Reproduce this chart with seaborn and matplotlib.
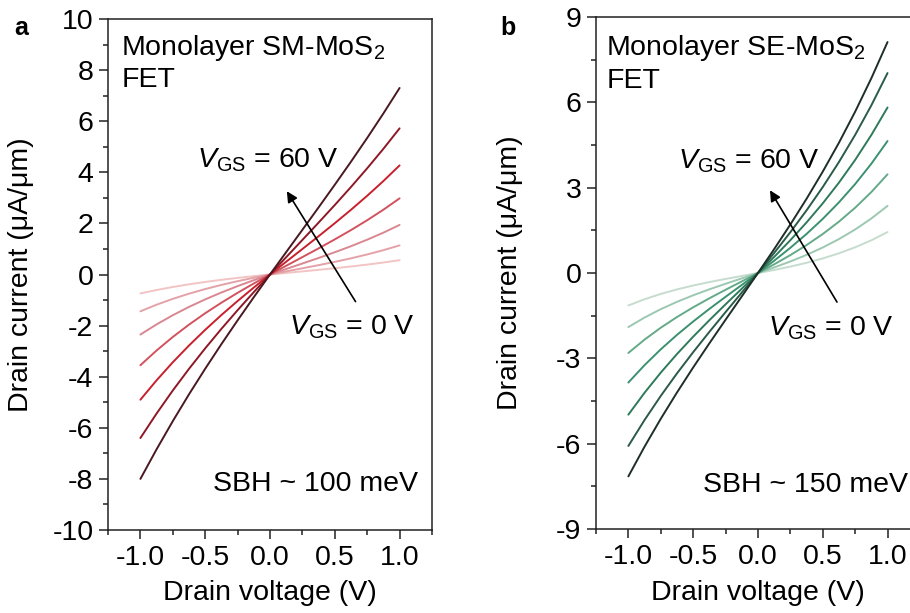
import numpy as np
import pandas as pd
import seaborn as sns
import matplotlib
matplotlib.use('Agg')
import matplotlib.pyplot as plt
from matplotlib.ticker import MultipleLocator, FormatStrFormatter

# Drain voltage samples (V)
vds = [-1.0, -0.875, -0.75, -0.625, -0.5, -0.375, -0.25, -0.125, 0.0,
       0.125, 0.25, 0.375, 0.5, 0.625, 0.75, 0.875, 1.0]

# Gate voltage steps, lowest to highest (used for hue order)
vgs_steps = ["0 V", "10 V", "20 V", "30 V", "40 V", "50 V", "60 V"]

# Panel a: monolayer SM-MoS2, drain current (uA/um), one list per V_GS
sm_0 = [-0.74, -0.607, -0.489, -0.384, -0.291, -0.208, -0.133, -0.064, 0.0,
        0.061, 0.122, 0.183, 0.246, 0.314, 0.388, 0.469, 0.56]
sm_10 = [-1.44, -1.182, -0.953, -0.751, -0.570, -0.408, -0.262, -0.127, 0.0,
         0.122, 0.243, 0.366, 0.495, 0.633, 0.785, 0.952, 1.14]
sm_20 = [-2.35, -1.952, -1.593, -1.268, -0.974, -0.704, -0.455, -0.222, 0.0,
         0.216, 0.430, 0.647, 0.871, 1.108, 1.362, 1.638, 1.94]
sm_30 = [-3.55, -2.973, -2.445, -1.962, -1.516, -1.103, -0.717, -0.351, 0.0,
         0.342, 0.681, 1.023, 1.374, 1.739, 2.124, 2.536, 2.98]
sm_40 = [-4.90, -4.140, -3.435, -2.779, -2.165, -1.586, -1.037, -0.510, 0.0,
         0.501, 0.998, 1.498, 2.008, 2.533, 3.081, 3.658, 4.27]
sm_50 = [-6.40, -5.440, -4.539, -3.692, -2.890, -2.127, -1.396, -0.689, 0.0,
         0.678, 1.353, 2.031, 2.720, 3.426, 4.157, 4.919, 5.72]
sm_60 = [-8.00, -6.839, -5.738, -4.689, -3.688, -2.725, -1.794, -0.888, 0.0,
         0.877, 1.750, 2.626, 3.513, 4.416, 5.344, 6.303, 7.30]

# Panel b: monolayer SE-MoS2
se_0 = [-1.14, -0.922, -0.735, -0.576, -0.439, -0.318, -0.208, -0.104, 0.0,
        0.108, 0.226, 0.360, 0.514, 0.693, 0.904, 1.151, 1.44]
se_10 = [-1.90, -1.565, -1.271, -1.013, -0.783, -0.573, -0.378, -0.189, 0.0,
         0.196, 0.406, 0.638, 0.898, 1.193, 1.530, 1.917, 2.36]
se_20 = [-2.81, -2.341, -1.923, -1.548, -1.206, -0.889, -0.589, -0.295, 0.0,
         0.305, 0.630, 0.982, 1.371, 1.806, 2.295, 2.846, 3.47]
se_30 = [-3.85, -3.238, -2.683, -2.175, -1.705, -1.262, -0.837, -0.420, 0.0,
         0.432, 0.887, 1.374, 1.903, 2.484, 3.127, 3.842, 4.64]
se_40 = [-4.98, -4.209, -3.502, -2.849, -2.239, -1.660, -1.101, -0.552, 0.0,
         0.565, 1.154, 1.778, 2.449, 3.177, 3.975, 4.852, 5.82]
se_50 = [-6.08, -5.167, -4.321, -3.530, -2.784, -2.069, -1.375, -0.689, 0.0,
         0.704, 1.434, 2.203, 3.021, 3.902, 4.855, 5.894, 7.03]
se_60 = [-7.15, -6.104, -5.125, -4.202, -3.321, -2.473, -1.644, -0.824, 0.0,
         0.839, 1.705, 2.609, 3.564, 4.580, 5.671, 6.847, 8.12]

red_colors = ["#f2c4c4", "#e4a2a8", "#d98790", "#d2525e", "#c8202c", "#8e1826", "#4a1820"]
green_colors = ["#c6dccf", "#9cc8b2", "#64aa88", "#3b9170", "#2e7a5a", "#2a5a48", "#1e2e28"]


def long_form(series):
    rows = []
    for step, vals in zip(vgs_steps, series):
        for v, i in zip(vds, vals):
            rows.append({"vds": v, "id": i, "vgs": step})
    return pd.DataFrame(rows)


df_sm = long_form([sm_0, sm_10, sm_20, sm_30, sm_40, sm_50, sm_60])
df_se = long_form([se_0, se_10, se_20, se_30, se_40, se_50, se_60])

sns.set_style("ticks")
plt.rcParams['font.family'] = ['Liberation Sans', 'DejaVu Sans']
plt.rcParams['mathtext.fontset'] = 'custom'
plt.rcParams['mathtext.rm'] = 'Liberation Sans'
plt.rcParams['mathtext.it'] = 'Liberation Sans:italic'
plt.rcParams['axes.unicode_minus'] = False
plt.rcParams['text.color'] = 'black'
plt.rcParams['axes.labelcolor'] = 'black'

FS = 20.5

fig = plt.figure(figsize=(9.1, 6.13), dpi=100)
ax_a = fig.add_axes([0.1187, 0.1354, 0.356, 0.8336])
ax_b = fig.add_axes([0.6549, 0.1370, 0.356, 0.8352])

sns.lineplot(data=df_sm, x="vds", y="id", hue="vgs", hue_order=vgs_steps,
             palette=red_colors, linewidth=1.4, legend=False, ax=ax_a)
sns.lineplot(data=df_se, x="vds", y="id", hue="vgs", hue_order=vgs_steps,
             palette=green_colors, linewidth=1.4, legend=False, ax=ax_b)

for ax, ylim, ymaj, ymin in [(ax_a, 10, 2, 1), (ax_b, 9, 3, 1.5)]:
    ax.set_xlim(-1.25, 1.25)
    ax.set_ylim(-ylim, ylim)
    ax.xaxis.set_major_locator(MultipleLocator(0.5))
    ax.xaxis.set_minor_locator(MultipleLocator(0.25))
    ax.yaxis.set_major_locator(MultipleLocator(ymaj))
    ax.yaxis.set_minor_locator(MultipleLocator(ymin))
    ax.xaxis.set_major_formatter(FormatStrFormatter('%.1f'))
    ax.yaxis.set_major_formatter(FormatStrFormatter('%d'))
    ax.tick_params(which='major', direction='out', length=6.5, width=1.1,
                   labelsize=FS, pad=4, colors='#222222', labelcolor='black')
    ax.tick_params(which='minor', direction='out', length=3.5, width=1.1, colors='#222222')
    for s in ax.spines.values():
        s.set_linewidth(1.1)
        s.set_color('#222222')
    ax.set_xlabel("Drain voltage (V)", fontsize=FS)
    ax.set_ylabel("Drain current (μA/μm)", fontsize=FS)

ax_a.yaxis.set_label_coords(-0.228, 0.5)
ax_b.yaxis.set_label_coords(-0.225, 0.5)
ax_a.xaxis.set_label_coords(0.5, -0.098)
ax_b.xaxis.set_label_coords(0.5, -0.100)

# Panel a annotations
ax_a.text(-1.147, 8.61, "Monolayer SM-MoS$_2$", fontsize=FS, va='baseline')
ax_a.text(-1.147, 7.32, "FET", fontsize=FS, va='baseline')
ax_a.text(-0.566, 4.19, "$V_{\\mathrm{GS}}$ = 60 V", fontsize=FS, va='baseline')
ax_a.text(0.147, -2.35, "$V_{\\mathrm{GS}}$ = 0 V", fontsize=FS, va='baseline')
ax_a.text(1.14, -8.49, "SBH ~ 100 meV", fontsize=FS, va='baseline', ha='right')
ax_a.annotate("", xy=(0.13, 3.26), xytext=(0.66, -1.06),
              arrowprops=dict(arrowstyle='-|>', color='black', lw=1.2,
                              mutation_scale=16, shrinkA=0, shrinkB=0))

# Panel b annotations
ax_b.text(-1.17, 7.65, "Monolayer SE-MoS$_2$", fontsize=FS, va='baseline')
ax_b.text(-1.17, 6.49, "FET", fontsize=FS, va='baseline')
ax_b.text(-0.62, 3.68, "$V_{\\mathrm{GS}}$ = 60 V", fontsize=FS, va='baseline')
ax_b.text(0.078, -2.19, "$V_{\\mathrm{GS}}$ = 0 V", fontsize=FS, va='baseline')
ax_b.text(-0.426, -7.70, "SBH ~ 150 meV", fontsize=FS, va='baseline')
ax_b.annotate("", xy=(0.093, 2.91), xytext=(0.61, -1.02),
              arrowprops=dict(arrowstyle='-|>', color='black', lw=1.2,
                              mutation_scale=16, shrinkA=0, shrinkB=0))

fig.text(14 / 910, 1 - 35 / 613, "a", fontsize=18, fontweight='bold', va='baseline')
fig.text(500 / 910, 1 - 35 / 613, "b", fontsize=18, fontweight='bold', va='baseline')

fig.savefig("out.png", dpi=100)
plt.close(fig)
